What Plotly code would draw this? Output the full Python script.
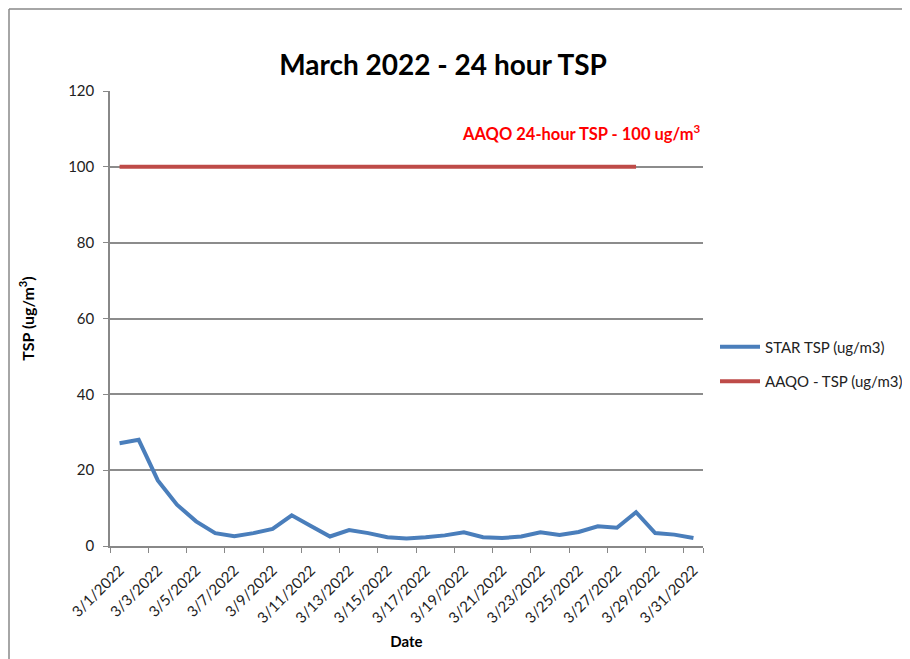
import plotly.graph_objects as go

dates = [f"3/{d}/2022" for d in range(1, 32)]
star_tsp = [27.1, 28.0, 17.3, 10.9, 6.5, 3.4, 2.6, 3.4, 4.5, 8.1,
            5.3, 2.5, 4.2, 3.4, 2.3, 2.0, 2.3, 2.8, 3.6, 2.3,
            2.1, 2.5, 3.6, 2.9, 3.7, 5.2, 4.8, 8.9, 3.4, 3.0, 2.1]
aaqo = [100] * 28 + [None] * 3
tick_labels = dates[::2]

OFF = 8  # page offset of the plot div
W, H = 910 - OFF, 659 - OFF
L, T, R, B = 110 - OFF, 91 - OFF, 703 - OFF, 546 - OFF
PW, PH = R - L, B - T


def px(xpage):
    return (xpage - OFF - L) / PW


def py(ypage):
    return (B - (ypage - OFF)) / PH


fig = go.Figure()
fig.add_trace(go.Scatter(x=dates, y=star_tsp, mode="lines", name="STAR TSP (ug/m3)",
                         legendgroup="a", line=dict(color="#4A7EBB", width=4)))
fig.add_trace(go.Scatter(x=dates, y=aaqo, mode="lines", name="AAQO - TSP (ug/m3)",
                         legendgroup="b", line=dict(color="#BE4B48", width=4)))

fig.update_layout(
    width=W, height=H,
    margin=dict(l=L, r=W - R, t=T, b=H - B, autoexpand=False),
    paper_bgcolor="white", plot_bgcolor="white",
    font=dict(family="Lato, Open Sans, sans-serif", color="#222", size=14),
    title=dict(text="<b>March 2022 - 24 hour TSP</b>", x=(443 - OFF) / W, xanchor="center",
               y=1 - (65 - OFF) / H, yanchor="middle",
               font=dict(size=28, color="black", family="Lato, sans-serif")),
    showlegend=True,
    legend=dict(x=px(715), y=py(364), xanchor="left", yanchor="middle",
                font=dict(size=15, color="#222"), itemwidth=40,
                tracegroupgap=12, bgcolor="rgba(0,0,0,0)"),
    xaxis=dict(type="category", tickmode="array", tickvals=tick_labels, ticktext=tick_labels,
               tickson="boundaries", ticks="outside", ticklen=5, tickcolor="#888",
               tickangle=-45, tickfont=dict(size=15, color="#222"), ticklabelstandoff=8,
               showline=True, linecolor="#888", linewidth=1.5, showgrid=False,
               range=[-0.5, 30.5], automargin=False,
               title=dict(text="<b>Date</b>", font=dict(size=15, color="black"), standoff=11)),
    yaxis=dict(range=[0, 120], dtick=20, ticks="outside", ticklen=5, tickcolor="#888",
               showline=True, linecolor="#888", linewidth=1.5,
               showgrid=True, gridcolor="#8c8c8c", gridwidth=1.5,
               tickfont=dict(size=15, color="#222"), zeroline=False, ticklabelstandoff=6,
               automargin=False,
               title=dict(text="<b>TSP (ug/m<sup>3</sup>)</b>", font=dict(size=16, color="black"),
                          standoff=30)),
    annotations=[dict(text="<b>AAQO 24-hour TSP - 100 ug/m<sup>3</sup></b>", xref="paper", yref="paper",
                      x=1.0, y=py(133), xanchor="right", yanchor="middle",
                      showarrow=False, font=dict(size=16.5, color="#FF0000"))],
    shapes=[
        dict(type="line", xref="paper", yref="paper", x0=px(9), x1=px(930),
             y0=py(9), y1=py(9), line=dict(color="#888", width=1.5)),
        dict(type="line", xref="paper", yref="paper", x0=px(9), x1=px(9),
             y0=py(9), y1=py(680), line=dict(color="#888", width=1.5)),
    ],
)

fig.write_html("out.html")
